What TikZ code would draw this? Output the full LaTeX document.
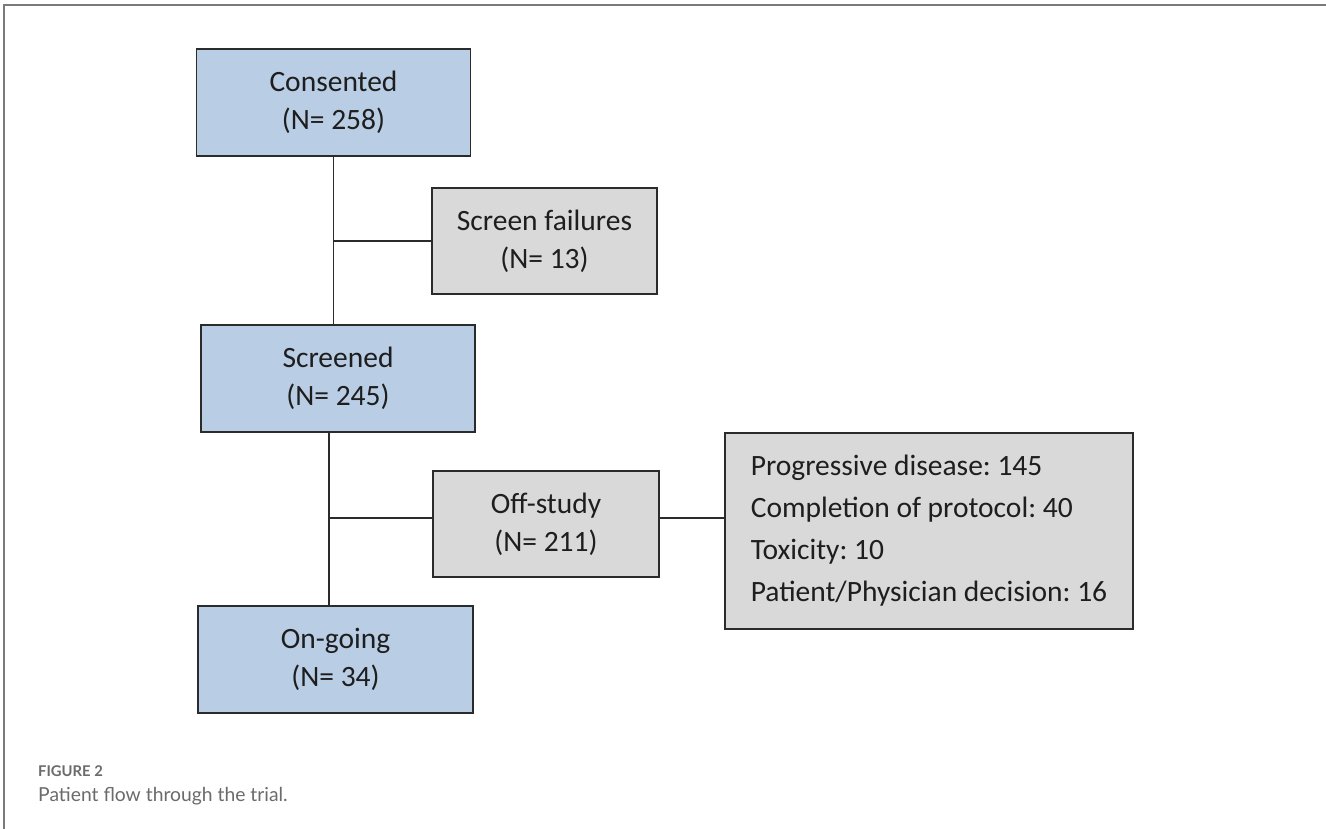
\documentclass[tikz,border=0pt]{standalone}
\usepackage{fontspec}
\setmainfont{Carlito}
\newfontfamily\capfont{Lato}
\frenchspacing
\definecolor{boxblue}{HTML}{B9CDE5}
\definecolor{boxgrey}{HTML}{D9D9D9}
\definecolor{edge}{HTML}{2B2B2B}
\definecolor{framegrey}{HTML}{7A7A7A}
\definecolor{capgrey}{HTML}{6B6B6B}
\definecolor{ink}{HTML}{1E1E1E}
\tikzset{
  bluebox/.style={draw=edge, line width=1.8pt, fill=boxblue, rectangle, inner sep=0pt,
    minimum width=274pt, minimum height=107pt, align=center,
    font=\fontsize{29.5}{38}\selectfont\frenchspacing, text=ink},
  greybox/.style={draw=edge, line width=1.8pt, fill=boxgrey, rectangle, inner sep=0pt,
    minimum width=226pt, minimum height=106pt, align=center,
    font=\fontsize{29.5}{38}\selectfont\frenchspacing, text=ink},
  listbox/.style={draw=edge, line width=1.8pt, fill=boxgrey, rectangle, inner sep=0pt,
    minimum width=408pt, minimum height=196pt, align=left,
    font=\fontsize{29.5}{42}\selectfont\frenchspacing, text=ink},
  link/.style={draw=edge, line width=1.6pt},
}
\begin{document}
\begin{tikzpicture}[x=1pt, y=-1pt]
\useasboundingbox (0,0) rectangle (1326,829);
\fill[white] (0,0) rectangle (1326,829);
% frame
\draw[framegrey, line width=2pt] (1326,5) -- (4,5) -- (4,829);

\node[bluebox] (cons) at (333.5,102.5) {Consented\\(N= 258)};
\node[greybox, minimum width=225pt] (sf) at (544.5,241) {Screen failures\\(N= 13)};
\node[bluebox] (scr) at (338,378.5) {Screened\\(N= 245)};
\node[greybox] (off) at (546,524) {Off-study\\(N= 211)};
\node[bluebox, minimum width=275pt] (og) at (335.5,659.5) {On-going\\(N= 34)};
\node[listbox] (rsn) at (929,531) {Progressive disease: 145\\Completion of protocol: 40\\Toxicity: 10\\Patient/Physician decision: 16};

\draw[link] (cons.south) -- (cons.south |- scr.north);
\draw[link] (cons.south |- sf.west) -- (sf.west);
\draw[link] ([xshift=-9pt]scr.south) -- ([xshift=-9pt]scr.south |- og.north);
\draw[link] ([xshift=-9pt, yshift=6pt]scr.south |- off.west) -- ([yshift=6pt]off.west);
\draw[link] ([yshift=6pt]off.east) -- ([yshift=6pt]off.east -| rsn.west);

\node[anchor=base west, inner sep=0pt, text=capgrey, font=\capfont\bfseries\fontsize{14.8}{17}\selectfont] (fig) at (38,776) {FIGURE 2};
\node[anchor=base west, inner sep=0pt, text=capgrey, font=\capfont\fontsize{19.3}{22}\selectfont] (cap) at (38,801) {Patient flow through the trial.};
\end{tikzpicture}
\end{document}
